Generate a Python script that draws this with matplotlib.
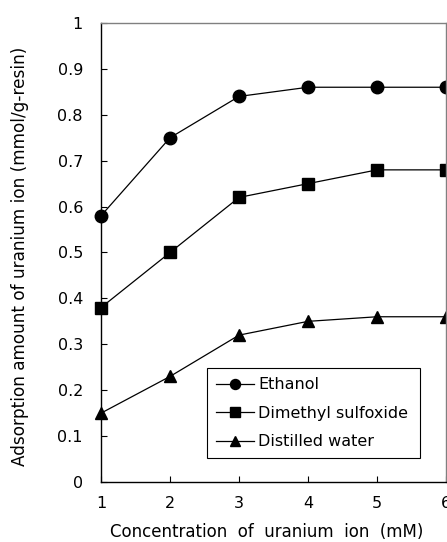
import matplotlib
matplotlib.use("Agg")
import matplotlib.pyplot as plt

conc = [1, 2, 3, 4, 5, 6]
ethanol = [0.58, 0.75, 0.84, 0.86, 0.86, 0.86]
dmso = [0.38, 0.50, 0.62, 0.65, 0.68, 0.68]
water = [0.15, 0.23, 0.32, 0.35, 0.36, 0.36]
y_ticks = [0, 0.1, 0.2, 0.3, 0.4, 0.5, 0.6, 0.7, 0.8, 0.9, 1]
y_labels = ["0", "0.1", "0.2", "0.3", "0.4", "0.5", "0.6", "0.7", "0.8", "0.9", "1"]

plt.rcParams["font.family"] = ["DejaVu Sans"]
plt.rcParams["font.size"] = 11

fig = plt.figure(figsize=(4.47, 5.42), dpi=100)
ax = fig.add_axes([0.226, 0.1107, 0.772, 0.8469])

ax.plot(conc, ethanol, color="black", lw=0.9, marker="o", ms=9, clip_on=False, label="Ethanol")
ax.plot(conc, dmso, color="black", lw=0.9, marker="s", ms=8.5, clip_on=False, label="Dimethyl sulfoxide")
ax.plot(conc, water, color="black", lw=0.9, marker="^", ms=9, clip_on=False, label="Distilled water")

ax.set_xlim(1, 6)
ax.set_ylim(0, 1)
ax.set_xticks(conc)
ax.set_yticks(y_ticks)
ax.set_yticklabels(y_labels)
ax.tick_params(direction="in", length=4, width=0.8, colors="black", labelsize=11.5)
ax.tick_params(axis="y", pad=13)
ax.tick_params(axis="x", pad=10)

for side in ["left", "bottom"]:
    ax.spines[side].set_color("black")
    ax.spines[side].set_linewidth(1)
for side in ["top", "right"]:
    ax.spines[side].set_color("gray")
    ax.spines[side].set_linewidth(1)

fig.text(267 / 447, 1 - 532 / 542, "Concentration  of  uranium  ion  (mM)",
         fontsize=12, ha="center", va="center")
fig.text(20 / 447, 1 - 256 / 542, "Adsorption amount of uranium ion (mmol/g-resin)",
         fontsize=12.2, rotation=90, ha="center", va="center")

leg = ax.legend(loc="lower left", bbox_to_anchor=(0.307, 0.052, 0.618, 0.196), mode="expand",
                frameon=True, fancybox=False, edgecolor="black", framealpha=1,
                fontsize=11.5, handlelength=2.4, handletextpad=0.25, borderpad=0.55,
                labelspacing=0.85, borderaxespad=0, markerscale=0.8)
leg.get_frame().set_linewidth(0.8)

fig.savefig("out.png", dpi=100)
